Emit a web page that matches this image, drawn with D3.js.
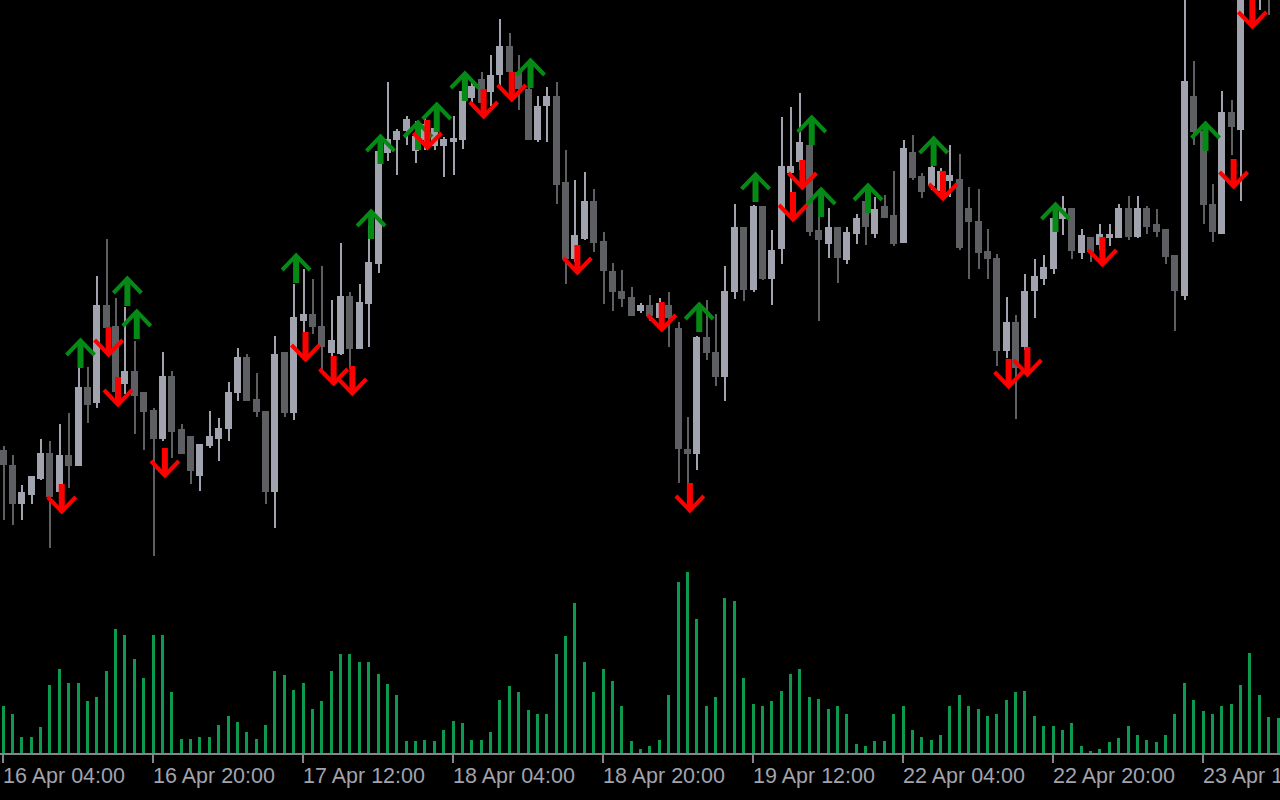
<!DOCTYPE html>
<html><head><meta charset="utf-8">
<script src="https://cdn.jsdelivr.net/npm/d3@7"></script>
<style>html,body{margin:0;padding:0;background:#000;overflow:hidden}</style>
</head><body><svg id="c" width="1280" height="800"></svg>
<script>
// ---- data (price in chart points, volume in ticks) ----
const tickLabels = ["16 Apr 04:00","16 Apr 20:00","17 Apr 12:00","18 Apr 04:00","18 Apr 20:00","19 Apr 12:00","22 Apr 04:00","22 Apr 20:00","23 Apr 12:00"];
const tickBars = [0,16,32,48,64,80,96,112,128];

const open = [110,95,56,65,81,107,68,105,94,173,
157,255,234,176,189,168,150,121,184,131,
124,84,114,121,131,167,203,161,149,68,
208,147,239,246,234,207,206,264,211,256,
296,407,420,429,409,420,414,414,418,420,
462,481,468,485,514,488,471,420,454,464,
378,301,321,359,319,289,269,263,249,255,
242,255,232,111,106,223,208,183,268,333,
270,354,281,311,387,398,415,330,316,333,
300,326,359,326,354,345,317,408,384,374,
369,379,381,352,339,309,302,209,238,213,
269,281,291,341,352,307,323,315,322,322,
352,323,352,336,331,305,264,464,429,356,
326,448,430,610,575,595,600];
const high = [114,105,75,84,121,119,136,147,192,193,
284,321,262,253,219,168,152,208,189,136,
124,116,149,142,178,212,206,187,149,224,
208,276,291,281,294,260,317,268,276,335,
421,478,431,444,439,444,450,423,444,471,
480,488,505,541,527,505,475,464,473,478,
410,380,388,371,328,297,290,273,257,265,
262,268,238,143,224,260,246,294,356,333,
355,354,330,443,453,467,415,343,352,333,
333,346,359,363,365,389,420,425,387,400,
392,415,406,373,371,331,306,263,245,286,
301,305,352,364,352,331,323,336,336,356,
364,364,354,351,331,305,580,499,429,376,
469,460,620,625,615,610,620];
const low = [40,35,40,56,80,12,64,72,94,137,
152,230,165,166,126,110,4,119,102,106,
76,69,112,99,119,159,159,143,56,32,
143,140,225,226,191,200,205,191,211,213,
287,399,385,415,397,410,410,383,385,411,
455,450,454,473,469,450,420,418,418,356,
276,298,320,308,256,249,253,244,247,239,
240,213,77,77,90,200,174,159,261,259,
268,280,255,296,368,390,324,239,302,277,
296,316,315,322,342,314,317,380,362,370,
365,363,310,281,291,281,194,202,141,210,
242,275,286,325,301,301,298,310,314,322,
320,322,326,323,296,229,260,415,336,318,
326,405,359,565,550,545,578];
const close = [95,56,68,84,107,63,105,94,173,155,
255,232,168,189,164,148,121,184,128,106,
89,116,124,132,168,203,159,148,68,206,
147,243,246,233,213,220,264,211,258,298,
409,421,429,441,424,436,432,421,422,469,
474,457,485,514,488,471,420,454,464,375,
301,325,359,317,289,268,261,244,255,244,
257,242,111,106,223,207,183,269,333,270,
354,281,310,394,394,418,328,320,333,302,
328,342,333,351,342,316,412,382,368,393,
389,385,312,338,307,301,209,238,192,269,
284,293,342,352,309,325,308,326,326,352,
323,352,333,328,303,269,479,428,355,328,
448,433,600,570,600,572,590];
const volume = [47,39,16,16,26,68,84,70,70,52,
56,82,124,118,94,75,118,118,61,14,
14,16,16,28,37,31,21,14,28,82,
78,63,70,44,52,82,99,99,91,91,
79,69,58,12,12,13,12,23,32,30,
13,13,21,53,67,61,43,39,39,99,
117,150,91,61,84,72,47,12,4,7,
13,58,171,181,134,47,56,155,152,75,
49,47,52,62,79,84,56,54,44,47,
39,9,7,12,12,39,47,23,16,13,
18,47,58,47,44,37,39,53,61,62,
37,27,27,23,30,7,2,4,11,15,
27,18,13,11,18,39,70,53,42,39,
47,49,68,100,58,36,35];
// signal arrows: bar index and tip price
const upBars = [8,13,14,31,39,40,44,46,49,56,74,80,86,87,92,99,112,128];
const upTips = [221,283,250,306,350,425,439,457,488,501,257,387,444,372,376,423,357,438];
const downBars = [6,11,12,17,32,35,37,45,51,54,61,70,73,84,85,100,107,109,117,131,133];
const downTips = [47,204,154,83,199,175,165,411,442,459,286,229,48,339,371,360,172,184,294,372,532];

// ---- drawing ----
const W = 1280, H = 800;
const svg = d3.select("#c");
svg.append("rect").attr("width", W).attr("height", H).attr("fill", "#000");

const x = d3.scaleLinear().domain([0, 136]).range([2.5, 2.5 + 136 * 9.375]);
const y = d3.scaleLinear().domain([0, 560]).range([560, 0]);
const yv = d3.scaleLinear().domain([0, 200]).range([753, 553]);

const bars = d3.range(open.length);
const cx = i => Math.round(x(i));

// volume
svg.append("g").attr("shape-rendering", "crispEdges").selectAll("rect").data(bars).join("rect")
  .attr("x", i => cx(i) - 1).attr("width", 3)
  .attr("y", i => yv(volume[i])).attr("height", i => yv(0) - yv(volume[i]))
  .attr("fill", "#0d9a4e");

// candles
const bull = "#a1a4af", bear = "#5e5f63";
const cg = svg.append("g").attr("shape-rendering", "crispEdges");
cg.selectAll("rect.w").data(bars).join("rect").attr("class", "w")
  .attr("x", i => cx(i)).attr("width", 2)
  .attr("y", i => y(high[i])).attr("height", i => Math.max(1, y(low[i]) - y(high[i])))
  .attr("fill", i => close[i] >= open[i] ? bull : bear);
cg.selectAll("rect.b").data(bars).join("rect").attr("class", "b")
  .attr("x", i => cx(i) - 3).attr("width", 7)
  .attr("y", i => y(Math.max(open[i], close[i])))
  .attr("height", i => Math.max(1, Math.abs(y(open[i]) - y(close[i]))))
  .attr("fill", i => close[i] >= open[i] ? bull : bear);

// arrows
const ag = svg.append("g");
upBars.forEach((b, k) => {
  const ax = x(b) + 3, ty = y(upTips[k]);
  ag.append("rect").attr("x", ax - 3).attr("y", ty + 3).attr("width", 6).attr("height", 26).attr("fill", "#068a16");
  ag.append("polyline").attr("points", `${ax-14},${ty+16} ${ax},${ty+1.5} ${ax+14},${ty+16}`)
    .attr("fill", "none").attr("stroke", "#068a16").attr("stroke-width", 4);
});
downBars.forEach((b, k) => {
  const ax = x(b) + 3, ty = y(downTips[k]);
  ag.append("rect").attr("x", ax - 3).attr("y", ty - 29).attr("width", 6).attr("height", 26).attr("fill", "#ff0000");
  ag.append("polyline").attr("points", `${ax-14},${ty-16} ${ax},${ty-1.5} ${ax+14},${ty-16}`)
    .attr("fill", "none").attr("stroke", "#ff0000").attr("stroke-width", 4);
});

// time axis
svg.append("rect").attr("x", 0).attr("y", 753).attr("width", W).attr("height", 2).attr("fill", "#85858d");
const axis = d3.axisBottom(x).tickValues(tickBars).tickFormat((d, i) => tickLabels[i]).tickSize(9).tickSizeOuter(0);
const g = svg.append("g").attr("transform", "translate(0,754)").call(axis);
g.select(".domain").remove();
g.attr("font-family", "'Liberation Sans', Arial, sans-serif").attr("font-size", 21.5);
g.selectAll(".tick line").attr("stroke", "#85858d").attr("stroke-width", 2);
g.selectAll(".tick text").attr("fill", "#a3a3ab").attr("text-anchor", "start")
  .attr("x", 0).attr("y", 29).attr("dy", null);
</script></body></html>
